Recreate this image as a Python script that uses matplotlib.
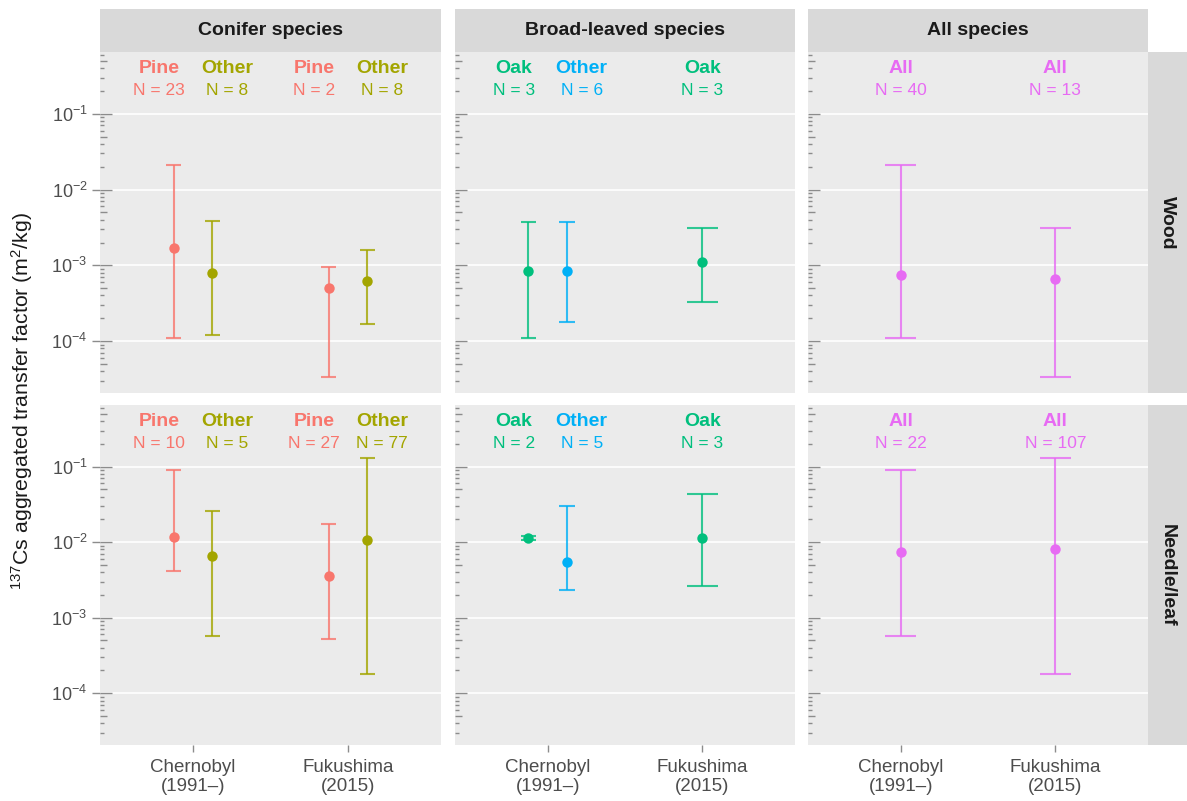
import matplotlib
matplotlib.use("Agg")
import matplotlib.pyplot as plt
import matplotlib.transforms as mtransforms
import numpy as np

plt.rcParams["font.family"] = ["Liberation Sans", "DejaVu Sans"]
plt.rcParams["mathtext.fontset"] = "custom"
plt.rcParams["mathtext.rm"] = "Liberation Sans"
plt.rcParams["mathtext.it"] = "Liberation Sans:italic"
plt.rcParams["mathtext.bf"] = "Liberation Sans:bold"

# ---- data -------------------------------------------------------------
facet_names = ["Conifer species", "Broad-leaved species", "All species"]
row_names = ["Wood", "Needle/leaf"]
site_labels = ["Chernobyl\n(1991\u2013)", "Fukushima\n(2015)"]

facet = ["Conifer species"] * 4 + ["Broad-leaved species"] * 3 + ["All species"] * 2
site = [0, 0, 1, 1, 0, 0, 1, 0, 1]
species = ["Pine", "Other", "Pine", "Other", "Oak", "Other", "Oak", "All", "All"]

wood_n = [23, 8, 2, 8, 3, 6, 3, 40, 13]
wood_mid = [1.7e-3, 7.9e-4, 5.0e-4, 6.2e-4, 8.5e-4, 8.3e-4, 1.1e-3, 7.4e-4, 6.6e-4]
wood_lo = [1.1e-4, 1.2e-4, 3.4e-5, 1.7e-4, 1.1e-4, 1.8e-4, 3.3e-4, 1.1e-4, 3.4e-5]
wood_hi = [2.1e-2, 3.9e-3, 9.5e-4, 1.6e-3, 3.7e-3, 3.7e-3, 3.1e-3, 2.1e-2, 3.1e-3]

leaf_n = [10, 5, 27, 77, 2, 5, 3, 22, 107]
leaf_mid = [1.17e-2, 6.5e-3, 3.6e-3, 1.06e-2, 1.14e-2, 5.5e-3, 1.14e-2, 7.4e-3, 8.1e-3]
leaf_lo = [4.1e-3, 5.7e-4, 5.2e-4, 1.8e-4, 1.06e-2, 2.3e-3, 2.6e-3, 5.7e-4, 1.8e-4]
leaf_hi = [9.1e-2, 2.6e-2, 1.74e-2, 1.28e-1, 1.22e-2, 3.0e-2, 4.4e-2, 9.1e-2, 1.28e-1]

row_data = [
    (wood_n, wood_mid, wood_lo, wood_hi),
    (leaf_n, leaf_mid, leaf_lo, leaf_hi),
]

colors = {
    ("Conifer species", "Pine"): "#F8766D",
    ("Conifer species", "Other"): "#A3A500",
    ("Broad-leaved species", "Oak"): "#00BF7D",
    ("Broad-leaved species", "Other"): "#00B0F6",
    ("All species", "All"): "#E76BF3",
}

# ---- layout (pixels) --------------------------------------------------
W, H = 1187, 801
fig = plt.figure(figsize=(W / 100, H / 100), dpi=100)
fig.patch.set_facecolor("white")


def frac(x0, y0, x1, y1):
    return [x0 / W, 1 - y1 / H, (x1 - x0) / W, (y1 - y0) / H]


col_px = [(100, 441), (455, 795), (808, 1148)]
row_px = [(52, 393), (405, 745)]
strip_top = 9
strip_right = (1148, 1187)

panel_bg = "#EBEBEB"
strip_bg = "#D9D9D9"
text_grey = "#4D4D4D"
tick_grey = "#8C8C8C"

ylim = (10 ** -4.685, 10 ** -0.185)
label_y, n_y = 0.40, 0.20


def log_ticks(ax):
    trans = mtransforms.blended_transform_factory(ax.transAxes, ax.transData)
    w = ax.get_position().width * W
    for k in range(-5, 1):
        for m in range(1, 10):
            v = m * 10.0 ** k
            if not (ylim[0] <= v <= ylim[1]):
                continue
            L = 12 if m == 1 else (7 if m == 5 else 4)
            ax.plot([0, L / w], [v, v], transform=trans, color=tick_grey,
                    lw=1.0, solid_capstyle="butt", zorder=2, clip_on=False)


for r, (ry0, ry1) in enumerate(row_px):
    n_, mid_, lo_, hi_ = row_data[r]
    for c, (cx0, cx1) in enumerate(col_px):
        ax = fig.add_axes(frac(cx0, ry0, cx1, ry1))
        ax.set_facecolor(panel_bg)
        ax.set_yscale("log")
        ax.set_ylim(*ylim)
        ax.set_xlim(0.4, 2.6)
        for s in ax.spines.values():
            s.set_visible(False)
        ax.yaxis.set_minor_locator(matplotlib.ticker.NullLocator())
        ax.set_yticks([1e-4, 1e-3, 1e-2, 1e-1])
        ax.grid(axis="y", which="major", color="white", lw=1.2, zorder=0)
        ax.set_axisbelow(True)
        if c == 0:
            ax.set_yticklabels([r"$10^{-4}$", r"$10^{-3}$", r"$10^{-2}$", r"$10^{-1}$"])
            ax.tick_params(axis="y", direction="out", length=6, width=1,
                           color=tick_grey, labelsize=13, labelcolor=text_grey, pad=3)
        else:
            ax.tick_params(axis="y", length=0, labelleft=False)
        ax.set_xticks([1, 2])
        if r == 1:
            ax.set_xticklabels(site_labels, linespacing=1.15)
            ax.tick_params(axis="x", direction="out", length=5, width=1,
                           color=tick_grey, labelsize=13.5, labelcolor=text_grey, pad=5)
        else:
            ax.tick_params(axis="x", length=0, labelbottom=False)
        log_ticks(ax)

        fname = facet_names[c]
        idx = [i for i in range(len(facet)) if facet[i] == fname]
        for s_i in (0, 1):
            grp = [i for i in idx if site[i] == s_i]
            k = len(grp)
            if k == 2:
                offs, loffs = [-0.125, 0.125], [-0.22, 0.22]
            else:
                offs, loffs = [0.0], [0.0]
            hw = 0.1 / k
            for j, i in enumerate(grp):
                col = colors[(fname, species[i])]
                x = s_i + 1 + offs[j]
                ax.vlines(x, lo_[i], hi_[i], color=col, lw=1.5, alpha=0.8, zorder=3)
                ax.hlines([lo_[i], hi_[i]], x - hw, x + hw, color=col, lw=1.5,
                          alpha=0.8, zorder=3)
                ax.plot([x], [mid_[i]], "o", color=col, ms=7.5, mec="none", zorder=4)
                lx = s_i + 1 + loffs[j]
                ax.text(lx, label_y, species[i], color=col, fontsize=14,
                        fontweight="bold", ha="center", va="center")
                ax.text(lx, n_y, f"N = {n_[i]}", color=col, fontsize=12.5,
                        ha="center", va="center")

        # right strip
        if c == 2:
            sax = fig.add_axes(frac(strip_right[0], ry0, strip_right[1], ry1))
            sax.set_facecolor(strip_bg)
            sax.set_xticks([]); sax.set_yticks([])
            for s in sax.spines.values():
                s.set_visible(False)
            sax.text(0.5, 0.5, row_names[r], rotation=-90, fontsize=14,
                     fontweight="bold", color="#1A1A1A", ha="center", va="center",
                     transform=sax.transAxes)

# top strips
for c, (cx0, cx1) in enumerate(col_px):
    sax = fig.add_axes(frac(cx0, strip_top, cx1, row_px[0][0]))
    sax.set_facecolor(strip_bg)
    sax.set_xticks([]); sax.set_yticks([])
    for s in sax.spines.values():
        s.set_visible(False)
    sax.text(0.5, 0.5, facet_names[c], fontsize=14, fontweight="bold",
             color="#1A1A1A", ha="center", va="center", transform=sax.transAxes)

fig.text(22 / W, 1 - 401 / H,
         r"$^{137}$Cs aggregated transfer factor (m$^2$/kg)",
         rotation=90, fontsize=15.3, color="#1A1A1A", ha="center", va="center")

fig.savefig("out.png", dpi=100, facecolor="white")
